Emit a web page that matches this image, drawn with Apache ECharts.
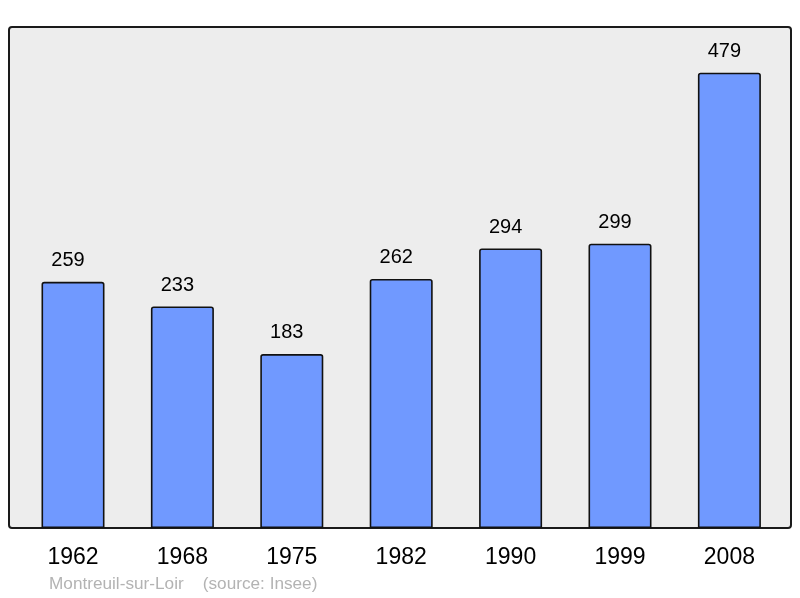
<!DOCTYPE html>
<html>
<head>
<meta charset="utf-8">
<style>html,body{margin:0;padding:0;background:#fff;}#c{width:800px;height:598px;}</style>
<script src="https://cdn.jsdelivr.net/npm/echarts@6/dist/echarts.min.js"></script>
</head>
<body>
<div id="c"></div>
<script>
var years = ['1962', '1968', '1975', '1982', '1990', '1999', '2008'];
var population = [259, 233, 183, 262, 294, 299, 479];
var footer = 'Montreuil-sur-Loir    (source: Insee)';

var chart = echarts.init(document.getElementById('c'), null, {renderer: 'canvas'});
chart.setOption({
  animation: false,
  backgroundColor: '#ffffff',
  graphic: [
    {type: 'rect', z: 0, shape: {x: 9, y: 27, width: 782, height: 501, r: 3},
     style: {fill: '#ededed', stroke: '#1a1a1a', lineWidth: 2}},
    {type: 'text', z: 5, left: 49, top: 576,
     style: {text: footer, fill: '#b3b3b3', fontSize: 17.2, fontFamily: 'Liberation Sans, Arial, sans-serif'}}
  ],
  grid: {left: 18.3, right: 15.9, top: 27, bottom: 70, containLabel: false},
  xAxis: {
    type: 'category', data: years,
    axisLine: {show: false}, axisTick: {show: false},
    axisLabel: {fontSize: 23, color: '#000', margin: 18.5, fontFamily: 'Liberation Sans, Arial, sans-serif'}
  },
  yAxis: {type: 'value', min: 0, max: 527, show: false, splitLine: {show: false}},
  series: [{
    type: 'bar', data: population, barWidth: 63, z: 2,
    itemStyle: {color: '#7099ff', borderColor: '#111', borderWidth: 1.6, borderRadius: [2, 2, 0, 0]},
    label: {show: true, position: 'top', distance: 11.5, offset: [-5, 0], fontSize: 20, color: '#000',
            fontFamily: 'Liberation Sans, Arial, sans-serif'}
  }]
});
</script>
</body>
</html>
